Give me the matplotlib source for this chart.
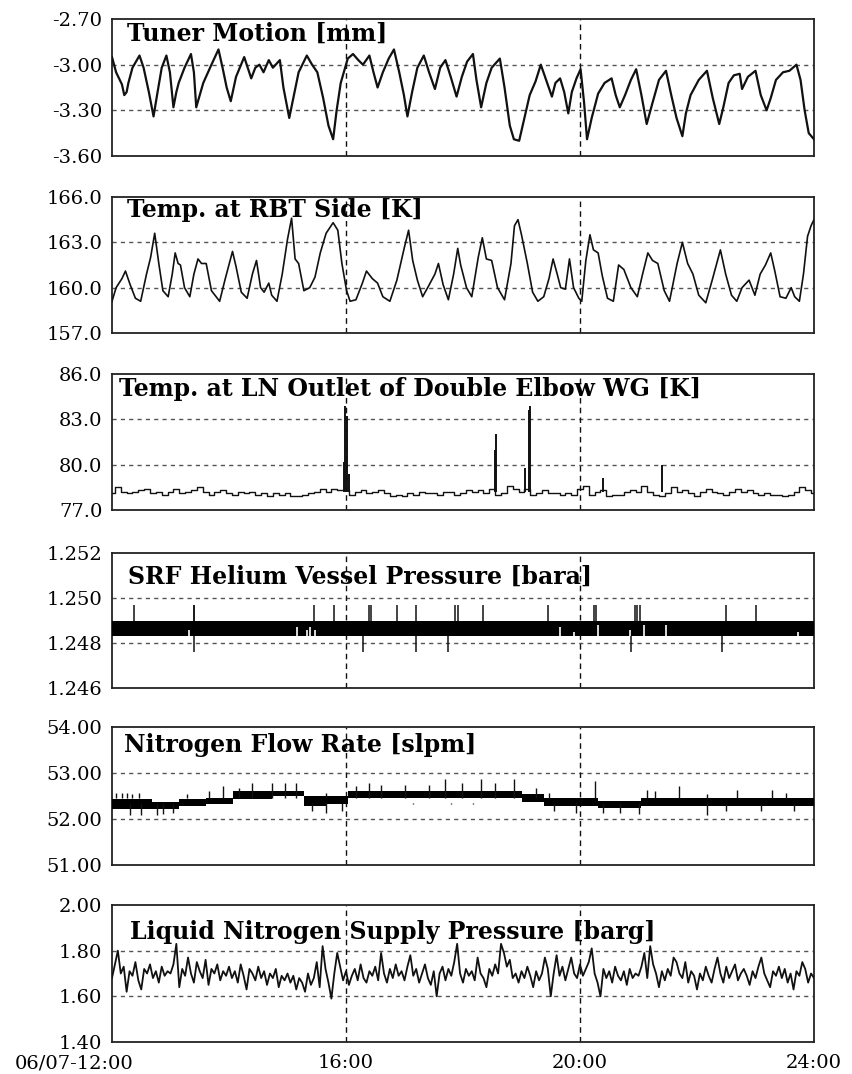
import numpy as np
import matplotlib
matplotlib.use("Agg")
import matplotlib.pyplot as plt
import matplotlib.transforms as mtransforms

plt.rcParams['font.family'] = ['DejaVu Serif']

# ---- time axis (hours after 06/07 12:00) ----
x_ticks = [0, 4, 8, 12]
x_labels = ['06/07-12:00', '16:00', '20:00', '24:00']

# ---- tuner motion [mm] ----
tuner_t = [0.00, 0.07, 0.17, 0.21, 0.25, 0.28, 0.35, 0.47, 0.54, 0.63, 0.71, 0.77, 0.85, 0.93,
           0.99, 1.05, 1.10, 1.14, 1.24, 1.35, 1.40, 1.44, 1.50, 1.56, 1.70, 1.82, 1.89, 1.96,
           2.03, 2.12, 2.26, 2.32, 2.38, 2.45, 2.52, 2.59, 2.68, 2.75, 2.87, 2.93, 3.03, 3.10,
           3.19, 3.33, 3.42, 3.51, 3.61, 3.70, 3.78, 3.84, 3.91, 4.03, 4.12, 4.21, 4.29, 4.40,
           4.47, 4.54, 4.63, 4.73, 4.82, 4.91, 4.99, 5.05, 5.13, 5.22, 5.33, 5.42, 5.52, 5.61,
           5.70, 5.79, 5.89, 5.98, 6.07, 6.17, 6.23, 6.31, 6.40, 6.49, 6.63, 6.71, 6.80, 6.87,
           6.96, 7.05, 7.14, 7.24, 7.33, 7.42, 7.52, 7.58, 7.66, 7.73, 7.80, 7.86, 7.94, 8.01,
           8.07, 8.12, 8.20, 8.31, 8.42, 8.54, 8.61, 8.68, 8.77, 8.87, 8.96, 9.05, 9.14, 9.24,
           9.35, 9.47, 9.56, 9.65, 9.75, 9.81, 9.89, 10.03, 10.17, 10.27, 10.38, 10.45, 10.54,
           10.63, 10.73, 10.77, 10.87, 11.00, 11.09, 11.19, 11.26, 11.35, 11.47, 11.58, 11.70,
           11.77, 11.84, 11.91, 12.00]
tuner_v = [-2.95, -3.05, -3.13, -3.20, -3.18, -3.12, -3.02, -2.94, -3.02, -3.18, -3.34, -3.20,
           -3.02, -2.94, -3.05, -3.28, -3.18, -3.12, -3.02, -2.93, -3.05, -3.28, -3.20, -3.12,
           -3.00, -2.90, -3.02, -3.15, -3.24, -3.08, -2.95, -3.02, -3.09, -3.02, -3.00, -3.05,
           -2.97, -3.02, -2.97, -3.15, -3.35, -3.22, -3.05, -2.94, -3.00, -3.05, -3.22, -3.40,
           -3.49, -3.30, -3.12, -2.96, -2.93, -2.97, -3.00, -2.94, -3.05, -3.15, -3.05, -2.96,
           -2.90, -3.05, -3.20, -3.34, -3.18, -3.02, -2.94, -3.05, -3.16, -3.02, -2.97, -3.08,
           -3.21, -3.08, -2.98, -2.93, -3.10, -3.28, -3.12, -3.02, -2.96, -3.15, -3.40, -3.49,
           -3.50, -3.35, -3.20, -3.11, -3.00, -3.10, -3.21, -3.12, -3.09, -3.18, -3.32, -3.18,
           -3.09, -3.03, -3.25, -3.49, -3.35, -3.19, -3.12, -3.09, -3.20, -3.28, -3.20, -3.10,
           -3.03, -3.20, -3.39, -3.25, -3.10, -3.04, -3.20, -3.35, -3.47, -3.32, -3.20, -3.10,
           -3.04, -3.22, -3.39, -3.28, -3.12, -3.07, -3.06, -3.16, -3.08, -3.04, -3.20, -3.30,
           -3.22, -3.10, -3.05, -3.04, -3.00, -3.10, -3.30, -3.45, -3.49]

# ---- temperature at RBT side [K] ----
rbt_t = [0.00, 0.07, 0.17, 0.23, 0.31, 0.40, 0.49, 0.59, 0.66, 0.73, 0.80, 0.87, 0.96, 1.03,
         1.08, 1.13, 1.17, 1.24, 1.33, 1.40, 1.47, 1.53, 1.61, 1.70, 1.84, 1.93, 2.06, 2.12,
         2.21, 2.31, 2.40, 2.47, 2.54, 2.60, 2.68, 2.73, 2.82, 2.91, 3.00, 3.07, 3.13, 3.19,
         3.28, 3.38, 3.47, 3.56, 3.66, 3.78, 3.86, 3.93, 4.01, 4.07, 4.17, 4.28, 4.35, 4.45,
         4.54, 4.63, 4.75, 4.87, 5.00, 5.07, 5.14, 5.22, 5.31, 5.41, 5.52, 5.58, 5.66, 5.75,
         5.84, 5.91, 5.96, 6.06, 6.15, 6.26, 6.33, 6.40, 6.49, 6.59, 6.71, 6.82, 6.88, 6.94,
         7.00, 7.10, 7.19, 7.28, 7.38, 7.47, 7.54, 7.61, 7.67, 7.75, 7.82, 7.89, 7.98, 8.03,
         8.10, 8.17, 8.23, 8.31, 8.38, 8.47, 8.57, 8.66, 8.75, 8.87, 8.98, 9.07, 9.16, 9.24,
         9.33, 9.44, 9.53, 9.66, 9.75, 9.84, 9.93, 10.03, 10.15, 10.26, 10.40, 10.49, 10.59,
         10.68, 10.77, 10.89, 10.99, 11.08, 11.17, 11.26, 11.33, 11.42, 11.52, 11.61, 11.67,
         11.75, 11.82, 11.89, 11.95, 12.00]
rbt_v = [159.1, 160.0, 160.6, 161.1, 160.2, 159.3, 159.1, 160.9, 162.0, 163.6, 161.6, 159.8,
         159.4, 160.9, 162.3, 161.6, 161.5, 160.0, 159.4, 160.9, 161.9, 161.6, 161.6, 159.8,
         159.1, 160.5, 162.4, 161.4, 159.7, 159.3, 160.9, 161.8, 160.0, 159.7, 160.3, 159.5,
         159.1, 160.9, 163.2, 164.6, 161.9, 161.6, 159.8, 160.0, 160.7, 162.3, 163.6, 164.3,
         163.8, 161.6, 159.8, 159.1, 159.2, 160.3, 161.1, 160.6, 160.3, 159.4, 159.1, 160.5,
         162.7, 163.8, 161.8, 160.5, 159.4, 160.1, 160.9, 161.6, 160.2, 159.2, 160.9, 162.6,
         161.5, 160.0, 159.4, 162.0, 163.3, 161.9, 161.8, 160.0, 159.2, 161.6, 164.1, 164.5,
         163.5, 161.6, 159.7, 159.1, 159.4, 160.6, 161.9, 160.9, 160.0, 159.9, 161.9, 160.0,
         159.3, 159.1, 161.8, 163.5, 162.5, 162.3, 160.8, 159.3, 159.1, 161.5, 161.2, 160.0,
         159.4, 160.9, 162.3, 161.8, 161.6, 159.8, 159.1, 161.6, 163.0, 161.6, 160.9, 159.5,
         159.0, 160.5, 162.5, 160.9, 159.5, 159.1, 160.0, 160.5, 159.5, 160.9, 161.5, 162.3,
         161.1, 159.4, 159.3, 160.0, 159.4, 159.1, 160.9, 163.4, 164.1, 164.5]

# ---- temperature at LN outlet of double elbow WG [K], 6 min samples ----
ln_base = [78.1, 78.5, 78.2, 78.1, 78.2, 78.3, 78.4, 78.1, 78.2, 78.0,
           78.2, 78.4, 78.1, 78.2, 78.3, 78.5, 78.2, 78.0, 78.2, 78.3,
           78.1, 78.0, 78.2, 78.1, 78.2, 78.0, 78.1, 77.9, 78.1, 78.0,
           78.1, 77.9, 77.9, 78.0, 78.1, 78.2, 78.4, 78.2, 78.4, 78.3,
           78.3, 78.0, 78.2, 78.3, 78.1, 78.2, 78.3, 78.1, 77.9, 78.0,
           77.9, 78.1, 78.0, 78.2, 78.1, 78.1, 78.0, 78.2, 78.2, 78.0,
           78.1, 78.3, 78.2, 78.3, 78.1, 78.4, 78.0, 78.1, 78.6, 78.4,
           78.2, 78.4, 78.0, 78.1, 78.3, 78.1, 78.1, 78.0, 78.1, 78.0,
           78.4, 78.6, 78.0, 78.2, 78.3, 77.9, 78.0, 78.0, 78.2, 78.3,
           78.2, 78.6, 78.2, 78.0, 77.9, 78.1, 78.5, 78.2, 78.3, 78.1,
           77.9, 78.2, 78.4, 78.2, 78.1, 78.0, 78.2, 78.4, 78.2, 78.3,
           78.1, 78.0, 78.1, 78.0, 78.0, 77.9, 78.0, 78.2, 78.5, 78.3, 78.1]
ln_spike_t = [3.97, 3.99, 4.01, 4.05, 6.55, 6.57, 7.06, 7.12, 7.15, 8.40, 9.40]
ln_spike_v = [80.2, 83.9, 83.2, 79.4, 81.0, 82.0, 79.8, 83.6, 83.9, 79.1, 80.0]

# ---- SRF helium vessel pressure [bara] ----
he_lo, he_hi = 1.2483, 1.2490
he_up_t = [0.38, 1.40, 1.41, 3.45, 3.80, 4.40, 4.43, 4.87, 5.19, 5.87, 5.92, 6.35,
           7.45, 8.24, 8.27, 8.94, 8.98, 9.03, 10.50, 11.00]
he_up_v = 1.2497
he_down_t = [1.40, 4.29, 5.19, 5.75, 8.87, 10.42]
he_down_v = 1.2476
he_gap_t = [1.31, 3.17, 3.33, 3.38, 3.47, 7.66, 7.89, 8.31, 8.85, 9.10, 9.47, 11.73]
he_gap_top = [1.2486, 1.2487, 1.2486, 1.2487, 1.2486, 1.2487, 1.2485, 1.2488, 1.2486,
              1.2488, 1.2488, 1.2485]

# ---- nitrogen flow rate [slpm] ----
n2_seg_t = [0.00, 0.68, 1.14, 1.61, 2.07, 2.73, 3.28, 3.66, 4.03, 4.59, 7.00, 7.38, 8.31,
            9.05, 12.00]
n2_lo = [52.21, 52.21, 52.29, 52.32, 52.43, 52.50, 52.29, 52.32, 52.46, 52.46, 52.36, 52.29,
         52.25, 52.29, 52.29]
n2_hi = [52.43, 52.36, 52.43, 52.46, 52.61, 52.61, 52.50, 52.50, 52.61, 52.61, 52.54, 52.46,
         52.39, 52.46, 52.46]
n2_up_t = [0.07, 0.17, 0.26, 0.35, 0.47, 1.28, 1.66, 1.89, 2.17, 2.40, 2.73, 2.96, 3.14,
           3.66, 4.17, 4.40, 4.59, 5.00, 5.42, 5.70, 5.98, 6.31, 6.54, 6.87, 7.24, 7.47,
           8.26, 9.14, 9.28, 9.70, 10.17, 10.68, 11.28, 11.52]
n2_up_v = [52.57, 52.56, 52.57, 52.55, 52.57, 52.55, 52.60, 52.71, 52.68, 52.79, 52.79,
           52.79, 52.79, 52.57, 52.71, 52.79, 52.75, 52.75, 52.75, 52.86, 52.79, 52.86,
           52.79, 52.86, 52.68, 52.57, 52.82, 52.64, 52.60, 52.71, 52.55, 52.64, 52.64, 52.57]
n2_down_t = [0.31, 0.49, 0.77, 0.87, 1.05, 3.42, 3.66, 3.93, 5.14, 5.80, 6.17, 7.56, 7.93,
             8.40, 8.68, 9.00, 10.17, 10.49, 11.10, 11.66]
n2_down_v = [52.09, 52.09, 52.09, 52.11, 52.14, 52.18, 52.14, 52.18, 52.32, 52.32, 52.32,
             52.18, 52.14, 52.14, 52.14, 52.11, 52.09, 52.18, 52.18, 52.18]

# ---- liquid nitrogen supply pressure [barg], 3 min samples ----
lnp_vals = [1.68, 1.74, 1.80, 1.70, 1.73, 1.62, 1.71, 1.69, 1.75, 1.67, 1.63, 1.72, 1.70, 1.74, 1.68, 1.71, 1.66, 1.73, 1.69, 1.71,
            1.70, 1.74, 1.83, 1.64, 1.72, 1.69, 1.77, 1.70, 1.66, 1.75, 1.71, 1.68, 1.76, 1.65, 1.72, 1.70, 1.74, 1.67, 1.71, 1.69,
            1.73, 1.68, 1.71, 1.66, 1.74, 1.69, 1.63, 1.72, 1.70, 1.67, 1.73, 1.68, 1.71, 1.65, 1.70, 1.68, 1.72, 1.64, 1.69, 1.67,
            1.70, 1.66, 1.69, 1.63, 1.68, 1.66, 1.62, 1.70, 1.65, 1.68, 1.75, 1.64, 1.82, 1.72, 1.66, 1.59, 1.70, 1.79, 1.73, 1.67,
            1.71, 1.65, 1.69, 1.72, 1.67, 1.74, 1.68, 1.66, 1.71, 1.69, 1.73, 1.67, 1.79, 1.70, 1.66, 1.72, 1.68, 1.74, 1.69, 1.71,
            1.67, 1.73, 1.78, 1.69, 1.72, 1.66, 1.70, 1.74, 1.68, 1.65, 1.71, 1.60, 1.70, 1.73, 1.67, 1.72, 1.69, 1.75, 1.83, 1.70,
            1.66, 1.72, 1.69, 1.71, 1.67, 1.77, 1.70, 1.68, 1.64, 1.72, 1.69, 1.74, 1.70, 1.83, 1.79, 1.73, 1.76, 1.68, 1.70, 1.66,
            1.71, 1.68, 1.73, 1.69, 1.64, 1.71, 1.67, 1.70, 1.77, 1.72, 1.60, 1.70, 1.78, 1.69, 1.73, 1.67, 1.72, 1.77, 1.70, 1.68,
            1.74, 1.69, 1.72, 1.75, 1.81, 1.70, 1.66, 1.60, 1.72, 1.68, 1.71, 1.66, 1.73, 1.69, 1.67, 1.71, 1.65, 1.72, 1.68, 1.70,
            1.69, 1.73, 1.79, 1.68, 1.82, 1.74, 1.70, 1.64, 1.71, 1.67, 1.72, 1.69, 1.77, 1.75, 1.70, 1.68, 1.75, 1.66, 1.71, 1.69,
            1.63, 1.70, 1.67, 1.73, 1.69, 1.66, 1.72, 1.77, 1.70, 1.66, 1.73, 1.68, 1.71, 1.74, 1.67, 1.70, 1.72, 1.69, 1.65, 1.71,
            1.68, 1.73, 1.77, 1.70, 1.67, 1.64, 1.71, 1.69, 1.73, 1.68, 1.72, 1.66, 1.70, 1.63, 1.71, 1.69, 1.75, 1.72, 1.66, 1.70, 1.68]

# ---- panel setup ----
titles = ['Tuner Motion [mm]', 'Temp. at RBT Side [K]',
          'Temp. at LN Outlet of Double Elbow WG [K]',
          'SRF Helium Vessel Pressure [bara]', 'Nitrogen Flow Rate [slpm]',
          'Liquid Nitrogen Supply Pressure [barg]']
y_ticks = [[-3.60, -3.30, -3.00, -2.70], [157, 160, 163, 166], [77, 80, 83, 86],
           [1.246, 1.248, 1.250, 1.252], [51, 52, 53, 54], [1.40, 1.60, 1.80, 2.00]]
y_labels = [['-3.60', '-3.30', '-3.00', '-2.70'], ['157.0', '160.0', '163.0', '166.0'],
            ['77.0', '80.0', '83.0', '86.0'], ['1.246', '1.248', '1.250', '1.252'],
            ['51.00', '52.00', '53.00', '54.00'], ['1.40', '1.60', '1.80', '2.00']]
# axes boxes in pixels (top, bottom) and title offsets (x from left, y from top)
box_px = [(19, 156), (197, 333), (374, 510), (553, 688), (727, 865), (905, 1042)]
title_dx = [15, 15, 7, 16, 12, 18]
title_dy = [3, 1, 3, 12, 6, 15]

W, H = 852, 1074
fig = plt.figure(figsize=(W / 100, H / 100), dpi=100)
left_px, right_px = 112, 814

axes = []
for i, (top, bot) in enumerate(box_px):
    ax = fig.add_axes([left_px / W, 1 - bot / H, (right_px - left_px) / W, (bot - top) / H])
    ax.set_xlim(0, 12)
    ax.set_ylim(y_ticks[i][0], y_ticks[i][-1])
    ax.set_yticks(y_ticks[i])
    ax.set_yticklabels(y_labels[i], fontsize=14)
    ax.set_xticks(x_ticks)
    ax.tick_params(length=0, pad=7)
    for s in ax.spines.values():
        s.set_linewidth(1.3)
        s.set_color('#222')
    for yv in y_ticks[i][1:-1]:
        ax.axhline(yv, color='#555', lw=1.0, ls=(0, (3, 3)), zorder=1)
    for xv in x_ticks[1:-1]:
        ax.axvline(xv, color='#111', lw=1.0, ls=(0, (4, 3)), zorder=1)
    ax.text(title_dx[i] / (right_px - left_px), 1 - title_dy[i] / (bot - top), titles[i],
            transform=ax.transAxes, ha='left', va='top', fontsize=17,
            fontweight='bold', zorder=5)
    if i < len(box_px) - 1:
        ax.set_xticklabels([])
    axes.append(ax)

lc = '#111'

# tuner motion
axes[0].plot(tuner_t, tuner_v, color=lc, lw=1.6, zorder=3)

# RBT side temperature
axes[1].plot(rbt_t, rbt_v, color=lc, lw=1.2, zorder=3)

# LN outlet temperature
ln_t = np.linspace(0, 12, len(ln_base))
axes[2].plot(ln_t, ln_base, color=lc, lw=1.0, drawstyle='steps-mid', zorder=3)
axes[2].vlines(ln_spike_t, 78.2, ln_spike_v, color=lc, lw=1.4, zorder=3)

# helium vessel pressure: rapid toggling between two digitisation levels
ax = axes[3]
ax.fill_between([0, 12], he_lo, he_hi, color='black', lw=0, zorder=3)
ax.vlines(he_up_t, he_hi, he_up_v, color=lc, lw=1.1, zorder=3)
ax.vlines(he_down_t, he_down_v, he_lo, color=lc, lw=1.1, zorder=3)
ax.vlines(he_gap_t, he_lo, he_gap_top, color='white', lw=1.2, zorder=4)

# nitrogen flow rate
ax = axes[4]
ax.fill_between(n2_seg_t, n2_lo, n2_hi, step='post', color='black', lw=0, zorder=3)
ax.vlines(n2_up_t, 52.45, n2_up_v, color=lc, lw=1.0, zorder=3)
ax.vlines(n2_down_t, n2_down_v, 52.35, color=lc, lw=1.0, zorder=3)

# LN supply pressure
lnp_t = np.linspace(0, 12, len(lnp_vals))
axes[5].plot(lnp_t, lnp_vals, color=lc, lw=1.3, zorder=3)

# time labels on the bottom panel only
ax = axes[-1]
ax.set_xticklabels(x_labels, fontsize=14)
ax.tick_params(axis='x', pad=9)
first = ax.get_xticklabels()[0]
first.set_transform(first.get_transform()
                    + mtransforms.ScaledTranslation(-0.38, 0, fig.dpi_scale_trans))

fig.savefig('out.png', dpi=100)
